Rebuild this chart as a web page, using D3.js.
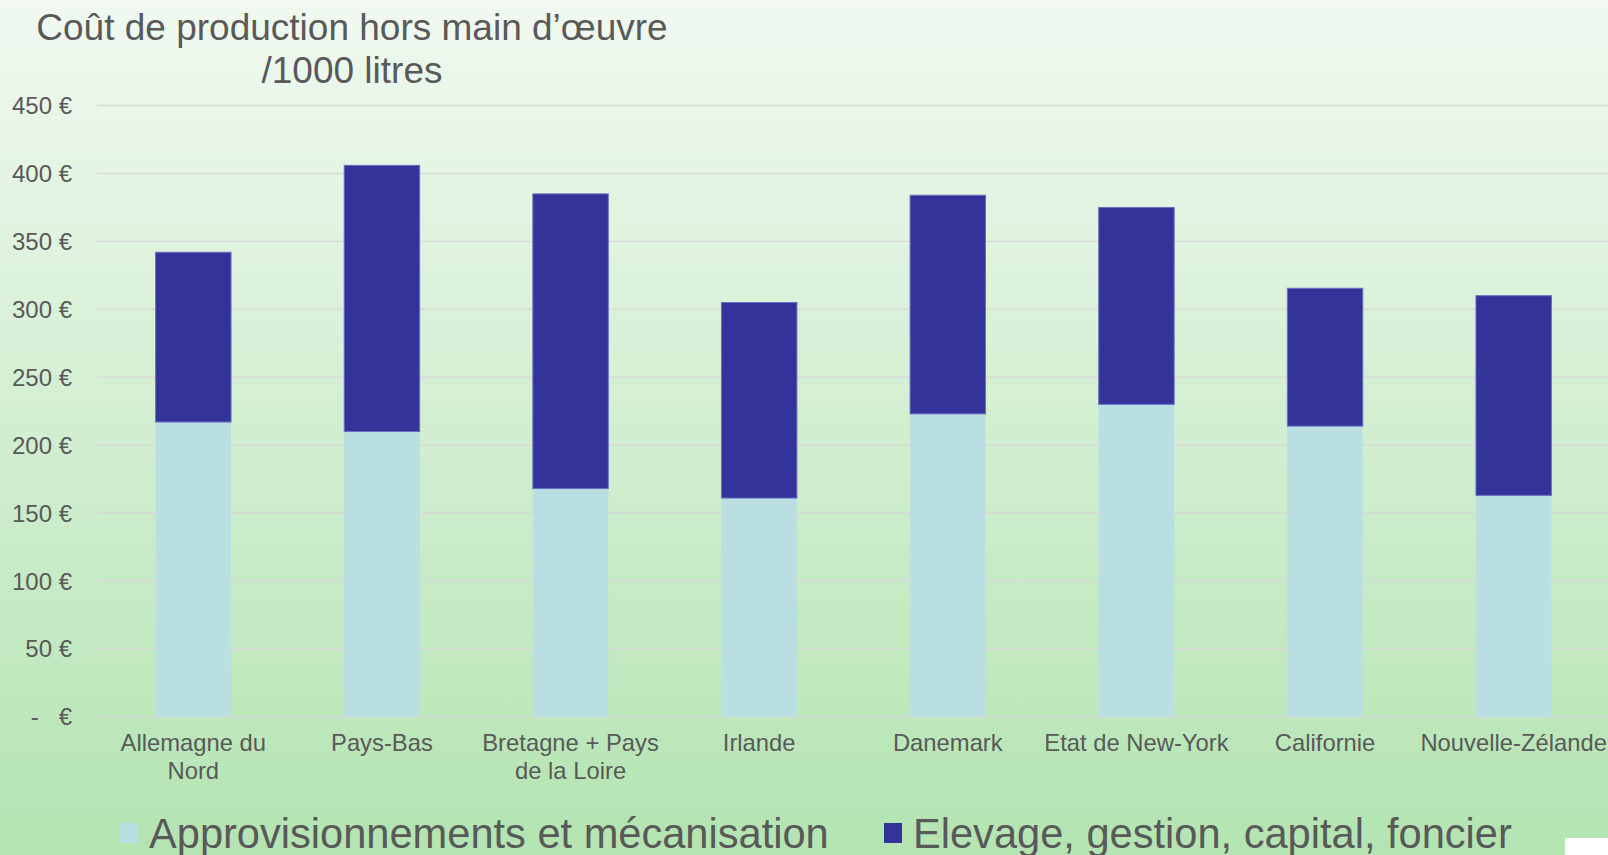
<!DOCTYPE html>
<html>
<head>
<meta charset="utf-8">
<script src="https://cdn.jsdelivr.net/npm/d3@7"></script>
<style>
  html, body { margin: 0; padding: 0; overflow: hidden; }
  svg { display: block; font-family: "Liberation Sans", Arial, sans-serif; }
</style>
</head>
<body>
<div id="chart"></div>
<script>
// categories and the two stacked series (euros / 1000 litres)
const categories = ["Allemagne du\nNord", "Pays-Bas", "Bretagne + Pays\nde la Loire", "Irlande",
	"Danemark", "Etat de New-York", "Californie", "Nouvelle-Zélande"];
const appro = [217, 210, 168, 161, 223, 230, 214, 163];
const elevage = [125, 196, 217, 144, 161, 145, 101.5, 147];
const seriesNames = ["Approvisionnements et mécanisation", "Elevage, gestion, capital, foncier"];
const yTicks = [0, 50, 100, 150, 200, 250, 300, 350, 400, 450];
const titleLines = ["Coût de production hors main d’œuvre", "/1000 litres"];

const W = 1608, H = 855;
const colors = ["#b9dfe2", "#333399"];
const textColor = "#595959";

const svg = d3.select("#chart").append("svg")
	.attr("width", W)
	.attr("height", H);

// background gradient
const grad = svg.append("defs").append("linearGradient")
	.attr("id", "bg").attr("x1", 0).attr("y1", 0).attr("x2", 0).attr("y2", 1);
grad.append("stop").attr("offset", "0%").attr("stop-color", "#f1f9f1");
grad.append("stop").attr("offset", "100%").attr("stop-color", "#b3e4b1");
svg.append("rect").attr("width", W).attr("height", H).attr("fill", "url(#bg)");

const x = d3.scaleBand()
	.domain(d3.range(categories.length))
	.range([99, 1608])
	.paddingInner(0.6)
	.paddingOuter(0.3);

const y = d3.scaleLinear().domain([0, 450]).range([716.7, 105.6]);

// gridlines
svg.append("g")
	.selectAll("line")
	.data(yTicks)
	.join("line")
	.attr("x1", 97).attr("x2", W)
	.attr("y1", d => y(d)).attr("y2", d => y(d))
	.attr("stroke", "#d9d9d9")
	.attr("stroke-width", 1.5);

// y axis labels
const fmt = d => d === 0 ? "-   €" : d + " €";
svg.append("g")
	.selectAll("text")
	.data(yTicks)
	.join("text")
	.attr("x", 72)
	.attr("y", d => y(d))
	.attr("dy", "0.36em")
	.attr("text-anchor", "end")
	.attr("fill", textColor)
	.attr("font-size", 24)
	.style("white-space", "pre")
	.text(fmt);

// stacked bars
const rows = categories.map((c, i) => ({i: i, appro: appro[i], elevage: elevage[i]}));
const stack = d3.stack().keys(["appro", "elevage"])(rows);

svg.append("g")
	.selectAll("g")
	.data(stack)
	.join("g")
	.attr("fill", (d, k) => colors[k])
	.attr("stroke", (d, k) => k === 1 ? "#6a6fc4" : "none")
	.attr("stroke-width", 1)
	.selectAll("rect")
	.data(d => d)
	.join("rect")
	.attr("x", d => x(d.data.i))
	.attr("width", x.bandwidth())
	.attr("y", d => y(d[1]))
	.attr("height", d => y(d[0]) - y(d[1]));

// category labels
const cat = svg.append("g")
	.selectAll("text")
	.data(categories)
	.join("text")
	.attr("x", (d, i) => x(i) + x.bandwidth() / 2)
	.attr("y", 751)
	.attr("text-anchor", "middle")
	.attr("fill", textColor)
	.attr("font-size", 23.8);
cat.each(function(d) {
	d.split("\n").forEach((line, j) => {
		d3.select(this).append("tspan")
			.attr("x", d3.select(this).attr("x"))
			.attr("dy", j === 0 ? 0 : 28)
			.text(line);
	});
});

// title
svg.append("g")
	.selectAll("text")
	.data(titleLines)
	.join("text")
	.attr("x", 352)
	.attr("y", (d, i) => 40 + i * 43)
	.attr("text-anchor", "middle")
	.attr("fill", textColor)
	.attr("font-size", 37)
	.text(d => d);

// legend
const legendX = [120, 884];
const lg = svg.append("g")
	.selectAll("g")
	.data(seriesNames)
	.join("g")
	.attr("transform", (d, i) => "translate(" + legendX[i] + ",0)");
lg.append("rect")
	.attr("x", 0).attr("y", 823)
	.attr("width", 18).attr("height", 20)
	.attr("fill", (d, i) => colors[i]);
lg.append("text")
	.attr("x", 29).attr("y", 848)
	.attr("fill", textColor)
	.attr("font-size", 41.6)
	.text(d => d);

// white patch in the bottom right corner
svg.append("rect")
	.attr("x", 1565).attr("y", 838)
	.attr("width", W - 1565).attr("height", H - 838)
	.attr("fill", "#ffffff");
</script>
</body>
</html>
